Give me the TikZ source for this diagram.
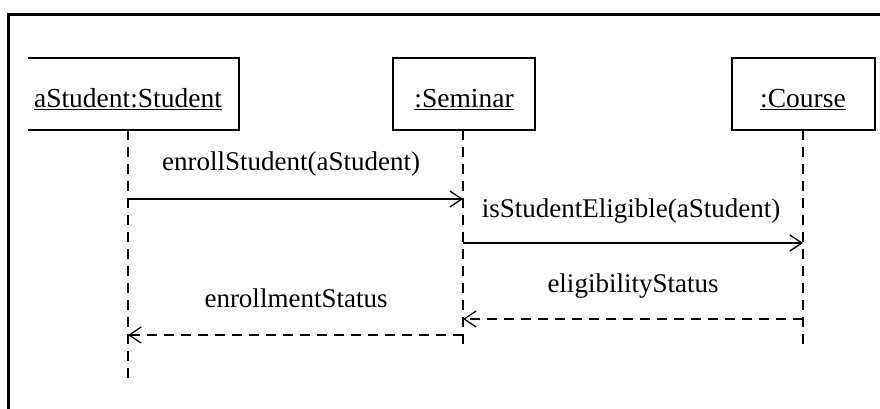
\documentclass[tikz,border=0pt]{standalone}
\usepackage{fontspec}
\setmainfont{Liberation Serif}
\usetikzlibrary{arrows.meta}
\begin{document}
\begin{tikzpicture}[x=1pt,y=-1pt,
  frame/.style={line width=3pt},
  objbox/.style={draw=none,minimum height=72pt,inner sep=0pt},
  boxline/.style={line width=1.5pt},
  objtext/.style={font=\fontsize{27.5}{30}\selectfont,anchor=base,inner sep=0pt},
  msgtext/.style={font=\fontsize{27}{30}\selectfont,anchor=base,inner sep=0pt},
  lifeline/.style={line width=1.3pt,dash pattern=on 10pt off 7pt},
  call/.style={line width=1.3pt,-{Straight Barb[length=12pt,width=16pt,line width=1.3pt]}},
  reply/.style={line width=1.3pt,dash pattern=on 10pt off 7pt,-{Straight Barb[length=12pt,width=16pt,line width=1.3pt]}}]
\useasboundingbox (0,0) rectangle (880,409);
% frame
\coordinate (fTL) at (8,15);
\coordinate (fTR) at (882,15);
\coordinate (fBL) at (8,411);
\draw[frame] (fTR) -- (fTL) -- (fBL);
% object boxes
\node[objbox,minimum width=211pt] (stu) at (133.5,94) {};
\node[objbox,minimum width=142pt] (sem) at (464,94) {};
\node[objbox,minimum width=143pt] (cou) at (803.5,94) {};
\draw[boxline] (stu.north west) -- (stu.north east) -- (stu.south east) -- (stu.south west);
\draw[boxline] (sem.north west) rectangle (sem.south east);
\draw[boxline] (cou.north west) rectangle (cou.south east);
\node[objtext] (stuT) at (128,107) {\underline{aStudent:Student}};
\node[objtext] (semT) at (464,107) {\underline{:Seminar}};
\node[objtext] (couT) at (803,107) {\underline{:Course}};
% lifelines
\coordinate (stuTop) at (128,130);
\coordinate (stuEnd) at (128,384);
\coordinate (semTop) at (463,130);
\coordinate (semEnd) at (463,344);
\coordinate (couTop) at (803,130);
\coordinate (couEnd) at (803,344);
\draw[lifeline] (stuTop) -- (stuEnd);
\draw[lifeline] (semTop) -- (semEnd);
\draw[lifeline] (couTop) -- (couEnd);
% messages
\draw[call] (stuTop |- 0,199) coordinate (m1a) -- (semTop |- 0,199) coordinate (m1b);
\node[msgtext] (m1) at (291,170) {enrollStudent(aStudent)};
\draw[call] (semTop |- 0,243) coordinate (m2a) -- (couTop |- 0,243) coordinate (m2b);
\node[msgtext] (m2) at (631,217) {isStudentEligible(aStudent)};
\draw[reply] (couTop |- 0,319) coordinate (m3a) -- (semTop |- 0,319) coordinate (m3b);
\node[msgtext] (m3) at (633,292) {eligibilityStatus};
\draw[reply] (semTop |- 0,335) coordinate (m4a) -- (stuTop |- 0,335) coordinate (m4b);
\node[msgtext] (m4) at (296,307) {enrollmentStatus};
\end{tikzpicture}
\end{document}
